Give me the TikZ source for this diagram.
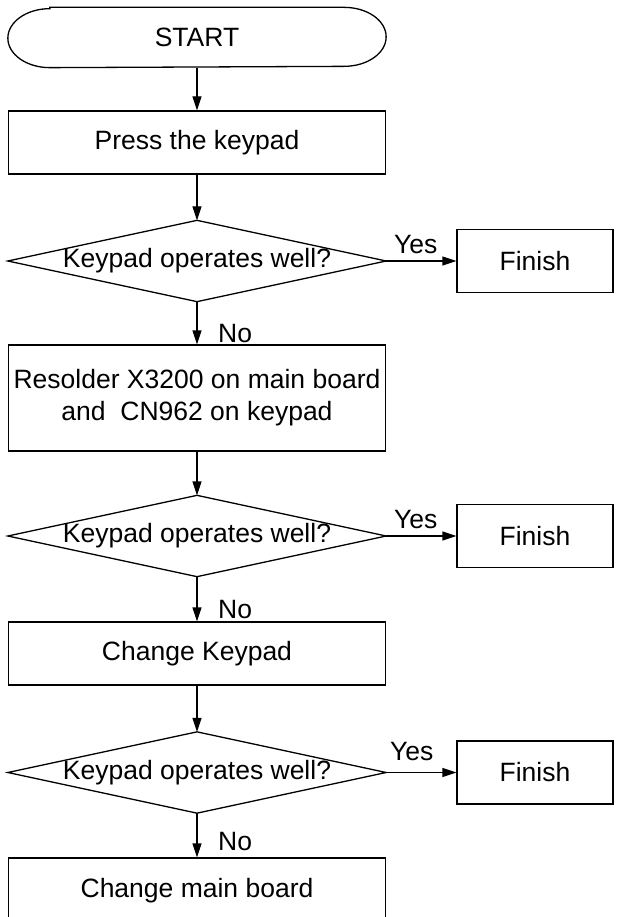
\documentclass[tikz,border=0pt]{standalone}
\usepackage{fontspec}
\setmainfont{Liberation Sans}
\usetikzlibrary{arrows.meta}
\begin{document}
\begin{tikzpicture}[x=1pt,y=-1pt,
  base/.style={font=\fontsize{26.5}{32}\selectfont, inner sep=0pt, line width=1.3pt},
  procbox/.style={base, draw, rectangle, minimum width=377pt, align=center},
  finbox/.style={base, draw, rectangle, minimum width=156pt, minimum height=63pt},
  decbox/.style={base, rectangle, minimum width=377pt, minimum height=80pt},
  lab/.style={font=\fontsize{26.5}{32}\selectfont, inner sep=0pt, anchor=base west},
  arr/.style={line width=1.3pt, -{Triangle[length=14pt,width=9pt]}},
  outl/.style={line width=1.3pt}
]
\useasboundingbox (0,0) rectangle (624,917);
\clip (0,0) rectangle (624,917);

% START terminal
\node[base, minimum width=377pt, minimum height=59pt] (start) at (197,37.5) {START};
\draw[outl] ([xshift=42pt]start.north west) -- ([xshift=-42pt]start.north east)
  arc[start angle=90, end angle=-90, x radius=42pt, y radius=29.5pt]
  -- ([xshift=42pt]start.south west)
  arc[start angle=270, end angle=90, x radius=42pt, y radius=29.5pt] -- cycle;

\node[procbox, minimum height=63pt] (b1) at (197,142.5) {Press the keypad};

\node[decbox] (d1) at (197,261) {Keypad operates well?};
\draw[outl] (d1.north) -- (d1.east) -- (d1.south) -- (d1.west) -- cycle;
\node[finbox] (f1) at (535,261) {Finish};

\node[procbox, minimum height=106pt] (b2) at (197,398) {Resolder X3200 on main board\\and \ CN962 on keypad};

\node[decbox] (d2) at (197,536) {Keypad operates well?};
\draw[outl] (d2.north) -- (d2.east) -- (d2.south) -- (d2.west) -- cycle;
\node[finbox] (f2) at (535,536) {Finish};

\node[procbox, minimum height=63pt] (b3) at (197,653.5) {Change Keypad};

\node[decbox] (d3) at (197,772.5) {Keypad operates well?};
\draw[outl] (d3.north) -- (d3.east) -- (d3.south) -- (d3.west) -- cycle;
\node[finbox] (f3) at (535,772.5) {Finish};

\node[procbox, minimum height=66pt] (b4) at (197,891) {Change main board};

% connectors
\draw[arr] (start.south) -- (b1.north);
\draw[arr] (b1.south) -- (d1.north);
\draw[arr] (d1.east) -- (f1.west);
\draw[arr] (d1.south) -- (b2.north);
\draw[arr] (b2.south) -- (d2.north);
\draw[arr] (d2.east) -- (f2.west);
\draw[arr] (d2.south) -- (b3.north);
\draw[arr] (b3.south) -- (d3.north);
\draw[arr] (d3.east) -- (f3.west);
\draw[arr] (d3.south) -- (b4.north);

% labels
\node[lab] (y1) at (394,253) {Yes};
\node[lab] (y2) at (394,528) {Yes};
\node[lab] (y3) at (390,760) {Yes};
\node[lab] (n1) at (218,342) {No};
\node[lab] (n2) at (218,618) {No};
\node[lab] (n3) at (218,850) {No};
\end{tikzpicture}
\end{document}
